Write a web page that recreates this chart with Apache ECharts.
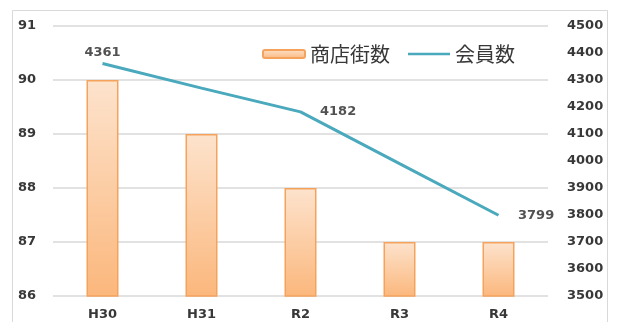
<!DOCTYPE html>
<html>
<head>
<meta charset="utf-8">
<script src="https://cdn.jsdelivr.net/npm/echarts@6/dist/echarts.min.js"></script>
<style>
  html, body { margin: 0; padding: 0; background: #fff; }
  #chart { width: 618px; height: 322px; }
</style>
</head>
<body>
<div id="chart"></div>
<script>
// Shopping streets (bars, left axis) and members (line, right axis) by fiscal year
const categories = ['H30', 'H31', 'R2', 'R3', 'R4'];
const streetCounts = [90, 89, 88, 87, 87];
const memberCounts = [4361, 4270, 4182, 3990, 3799];
const labeledMembers = [0, 2, 4];          // indices whose value is printed
const memberLabelPos = ['top', 'right', 'right'];

const axisFont = { fontFamily: 'DejaVu Sans', fontWeight: 'bold', fontSize: 13, color: '#383838' };
const lineColor = '#4aa9bd';

const chart = echarts.init(document.getElementById('chart'), null, { renderer: 'canvas' });

// value labels sit on invisible points placed at the line's own data
const labelPoints = labeledMembers.map((i, k) => ({
  value: [categories[i], memberCounts[i]],
  label: {
    show: true,
    position: memberLabelPos[k],
    distance: memberLabelPos[k] === 'top' ? 4 : 19
  }
}));

chart.setOption({
  animation: false,
  backgroundColor: '#ffffff',
  graphic: [{
    type: 'rect',
    shape: { x: 12.5, y: 10.5, width: 595, height: 330 },
    style: { fill: 'none', stroke: '#d9d9d9', lineWidth: 1 },
    silent: true,
    z: -1
  }],
  legend: {
    left: 257,
    top: 39,
    itemWidth: 42,
    itemHeight: 8,
    itemGap: 18,
    textStyle: { fontFamily: 'Noto Sans CJK JP', fontSize: 20, color: '#383838' },
    data: [
      { name: '商店街数', icon: 'roundRect' },
      { name: '会員数', icon: 'path://M0,0 L42,0 L42,2.5 L0,2.5 Z', itemStyle: { color: lineColor } }
    ]
  },
  grid: { left: 53, right: 70, top: 26, bottom: 26, containLabel: false },
  xAxis: {
    type: 'category',
    data: categories,
    axisLine: { show: false },
    axisTick: { show: false },
    axisLabel: Object.assign({ margin: 12 }, axisFont)
  },
  yAxis: [
    {
      type: 'value',
      min: 86, max: 91, interval: 1,
      axisLine: { show: false },
      axisTick: { show: false },
      splitLine: { lineStyle: { color: '#d9d9d9', width: 1.5 } },
      axisLabel: Object.assign({ margin: 17, align: 'right' }, axisFont)
    },
    {
      type: 'value',
      min: 3500, max: 4500, interval: 100,
      position: 'right',
      axisLine: { show: false },
      axisTick: { show: false },
      splitLine: { show: false },
      axisLabel: Object.assign({ margin: 19, align: 'left', formatter: v => String(v) }, axisFont)
    }
  ],
  series: [
    {
      name: '商店街数',
      type: 'bar',
      yAxisIndex: 0,
      barWidth: 32,
      data: streetCounts,
      itemStyle: {
        color: new echarts.graphic.LinearGradient(0, 0, 0, 1, [
          { offset: 0, color: '#fde3cd' },
          { offset: 1, color: '#fbb77c' }
        ]),
        borderColor: '#f5a35c',
        borderWidth: 1.5
      }
    },
    {
      name: '会員数',
      type: 'line',
      yAxisIndex: 1,
      data: memberCounts,
      symbol: 'none',
      lineStyle: { color: lineColor, width: 3 },
      itemStyle: { color: lineColor },
      z: 3
    },
    {
      name: 'memberLabels',
      type: 'scatter',
      yAxisIndex: 1,
      data: labelPoints,
      symbolSize: 1,
      itemStyle: { color: 'rgba(0,0,0,0)' },
      label: {
        fontFamily: 'DejaVu Sans',
        fontWeight: 'bold',
        fontSize: 13,
        color: '#262626'
      },
      silent: true,
      z: 4
    }
  ]
});
</script>
</body>
</html>
